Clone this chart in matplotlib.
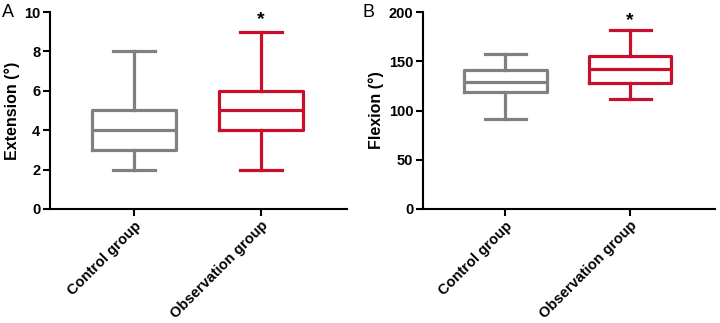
import numpy as np
import matplotlib.pyplot as plt

plt.rcParams['font.family'] = 'Liberation Sans'

groups = ['Control group', 'Observation group']
colors = ['#808080', '#C8102E']

# box stats: whisker low, Q1, median, Q3, whisker high
ext_stats = [[2, 3, 4, 5, 8], [2, 4, 5, 6, 9]]
flex_stats = [[91, 119, 129, 141, 157], [112, 128, 142, 155, 182]]

fig = plt.figure(figsize=(7.2, 3.23), dpi=100)
ax1 = fig.add_axes([50/720, 1 - 209/323, 297/720, 197/323])
ax2 = fig.add_axes([423/720, 1 - 209/323, 292/720, 197/323])


def draw(ax, stats, ylim, yticks, ylabel, letter, star_off, letter_x):
    bxp = []
    for s in stats:
        bxp.append(dict(whislo=s[0], q1=s[1], med=s[2], q3=s[3], whishi=s[4], fliers=[]))
    parts = ax.bxp(bxp, positions=[0, 1], widths=0.66, showfliers=False)
    for i, c in enumerate(colors):
        parts['boxes'][i].set(color=c, linewidth=2.3)
        parts['medians'][i].set(color=c, linewidth=2.3)
        for k in (2 * i, 2 * i + 1):
            parts['whiskers'][k].set(color=c, linewidth=2.3)
            parts['caps'][k].set(color=c, linewidth=2.3)
    ax.set_xlim(-0.66, 1.68)
    ax.set_ylim(*ylim)
    ax.set_yticks(yticks)
    ax.set_xticks([0, 1])
    ax.set_xticklabels(groups, rotation=45, ha='right', rotation_mode='anchor',
                       fontsize=10.5, fontweight='bold')
    for lab in ax.get_yticklabels():
        lab.set_fontweight('bold')
        lab.set_fontsize(10.5)
    ax.set_ylabel(ylabel, fontsize=11.5, fontweight='bold', labelpad=3)
    ax.spines['top'].set_visible(False)
    ax.spines['right'].set_visible(False)
    ax.spines['left'].set_linewidth(1.5)
    ax.spines['bottom'].set_linewidth(1.5)
    ax.tick_params(width=1.5, length=5, pad=2)
    ax.text(1, stats[1][4] + (ylim[1] - ylim[0]) * star_off, '*', ha='center', va='center',
            fontsize=14, fontweight='bold')
    ax.text(letter_x, 1.04, letter, transform=ax.transAxes, fontsize=13, va='top', ha='left')


draw(ax1, ext_stats, (0, 10), [0, 2, 4, 6, 8, 10], 'Extension (°)', 'A', 0.06, -48/297)
draw(ax2, flex_stats, (0, 200), [0, 50, 100, 150, 200], 'Flexion (°)', 'B', 0.045, -61/292)

plt.savefig('out.png', dpi=100)
